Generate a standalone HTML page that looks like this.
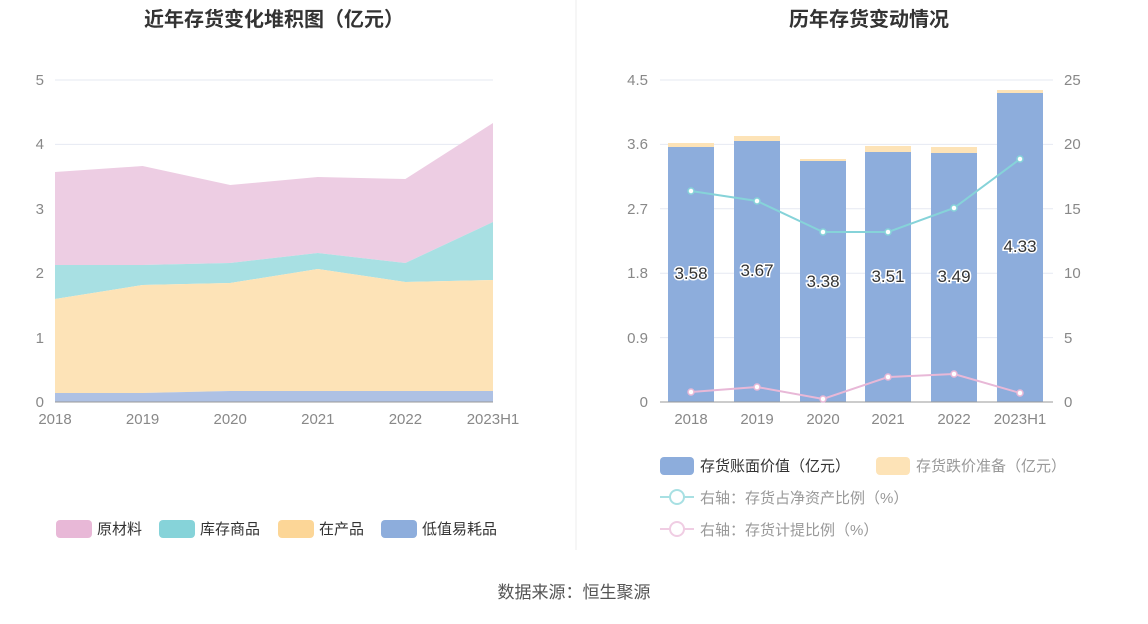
<!DOCTYPE html>
<html><head><meta charset="utf-8"><style>
body{margin:0;background:#fff;width:1148px;height:619px;overflow:hidden;font-family:"Liberation Sans","Noto Sans CJK SC",sans-serif;}
</style></head><body>
<svg width="1148" height="619" xmlns="http://www.w3.org/2000/svg" font-family="Liberation Sans, Noto Sans CJK SC, sans-serif">
<line x1="576" y1="0" x2="576" y2="550" stroke="#eee"/>
<text x="274" y="26" text-anchor="middle" font-size="20" font-weight="bold" fill="#333">近年存货变化堆积图（亿元）</text>
<text x="869" y="26" text-anchor="middle" font-size="20" font-weight="bold" fill="#333">历年存货变动情况</text>
<g stroke="#e6e9f2"><line x1="55" y1="80" x2="493" y2="80"/><line x1="55" y1="144.4" x2="493" y2="144.4"/><line x1="55" y1="208.8" x2="493" y2="208.8"/><line x1="55" y1="273.2" x2="493" y2="273.2"/><line x1="55" y1="337.6" x2="493" y2="337.6"/></g>
<g font-size="15" fill="#888" text-anchor="end"><text x="44" y="85">5</text><text x="44" y="149">4</text><text x="44" y="214">3</text><text x="44" y="278">2</text><text x="44" y="343">1</text><text x="44" y="407">0</text></g>
<polygon fill="#edcde3" points="55,172 142.6,166 230.2,185 317.8,177 405.4,179 493,123 493,222 405.4,263 317.8,253 230.2,263 142.6,265 55,265"/>
<polygon fill="#a8e0e3" points="55,265 142.6,265 230.2,263 317.8,253 405.4,263 493,222 493,280 405.4,282 317.8,269 230.2,283 142.6,285 55,299"/>
<polygon fill="#fde3b7" points="55,299 142.6,285 230.2,283 317.8,269 405.4,282 493,280 493,391 405.4,391 317.8,391 230.2,391 142.6,393 55,393"/>
<polygon fill="#aec1e4" points="55,393 142.6,393 230.2,391 317.8,391 405.4,391 493,391 493,402 55,402"/>
<line x1="55" y1="402" x2="493" y2="402" stroke="#999"/>
<g font-size="15" fill="#888" text-anchor="middle"><text x="55" y="424">2018</text><text x="142.6" y="424">2019</text><text x="230.2" y="424">2020</text><text x="317.8" y="424">2021</text><text x="405.4" y="424">2022</text><text x="493" y="424">2023H1</text></g>
<g font-size="15" fill="#333">
<rect x="56" y="520" width="36" height="18" rx="4" fill="#e8b8d7"/><text x="97" y="534">原材料</text>
<rect x="159" y="520" width="36" height="18" rx="4" fill="#86d3d9"/><text x="200" y="534">库存商品</text>
<rect x="278" y="520" width="36" height="18" rx="4" fill="#fcd697"/><text x="319" y="534">在产品</text>
<rect x="381" y="520" width="36" height="18" rx="4" fill="#8daddc"/><text x="422" y="534">低值易耗品</text>
</g>
<g stroke="#e6e9f2"><line x1="660" y1="80" x2="1053" y2="80"/><line x1="660" y1="144.4" x2="1053" y2="144.4"/><line x1="660" y1="208.8" x2="1053" y2="208.8"/><line x1="660" y1="273.2" x2="1053" y2="273.2"/><line x1="660" y1="337.6" x2="1053" y2="337.6"/></g>
<g font-size="15" fill="#888" text-anchor="end"><text x="648" y="85">4.5</text><text x="648" y="149">3.6</text><text x="648" y="214">2.7</text><text x="648" y="278">1.8</text><text x="648" y="343">0.9</text><text x="648" y="407">0</text></g>
<g font-size="15" fill="#888"><text x="1064" y="85">25</text><text x="1064" y="149">20</text><text x="1064" y="214">15</text><text x="1064" y="278">10</text><text x="1064" y="343">5</text><text x="1064" y="407">0</text></g>
<g fill="#fde3b7"><rect x="668" y="143" width="46" height="4"/><rect x="734" y="136" width="46" height="5"/><rect x="800" y="159" width="46" height="2"/><rect x="865" y="146" width="46" height="6"/><rect x="931" y="147" width="46" height="6"/><rect x="997" y="90" width="46" height="3"/></g>
<g fill="#8daddc"><rect x="668" y="147" width="46" height="255"/><rect x="734" y="141" width="46" height="261"/><rect x="800" y="161" width="46" height="241"/><rect x="865" y="152" width="46" height="250"/><rect x="931" y="153" width="46" height="249"/><rect x="997" y="93" width="46" height="309"/></g>
<line x1="660" y1="402" x2="1053" y2="402" stroke="#999"/>
<g font-size="17" fill="#333" text-anchor="middle" stroke="#fff" stroke-width="3" paint-order="stroke"><text x="691" y="279">3.58</text><text x="757" y="276">3.67</text><text x="823" y="287">3.38</text><text x="888" y="282">3.51</text><text x="954" y="282">3.49</text><text x="1020" y="252">4.33</text></g>
<polyline fill="none" stroke="#86d3d9" stroke-width="2" points="691,191 757,201 823,232 888,232 954,208 1020,159"/>
<polyline fill="none" stroke="#e8b8d7" stroke-width="2" points="691,392 757,387 823,399 888,377 954,374 1020,393"/>
<g fill="#fff" stroke="#86d3d9" stroke-width="1.5"><circle cx="691" cy="191" r="3"/><circle cx="757" cy="201" r="3"/><circle cx="823" cy="232" r="3"/><circle cx="888" cy="232" r="3"/><circle cx="954" cy="208" r="3"/><circle cx="1020" cy="159" r="3"/></g>
<g fill="#fff" stroke="#e8b8d7" stroke-width="1.5"><circle cx="691" cy="392" r="3"/><circle cx="757" cy="387" r="3"/><circle cx="823" cy="399" r="3"/><circle cx="888" cy="377" r="3"/><circle cx="954" cy="374" r="3"/><circle cx="1020" cy="393" r="3"/></g>
<g font-size="15" fill="#888" text-anchor="middle"><text x="691" y="424">2018</text><text x="757" y="424">2019</text><text x="823" y="424">2020</text><text x="888" y="424">2021</text><text x="954" y="424">2022</text><text x="1020" y="424">2023H1</text></g>
<g font-size="15" fill="#333">
<rect x="660" y="457" width="34" height="18" rx="4" fill="#8daddc"/><text x="700" y="471">存货账面价值（亿元）</text>
<rect x="876" y="457" width="34" height="18" rx="4" fill="#fde3b7"/><text x="916" y="471" fill="#999">存货跌价准备（亿元）</text>
<line x1="660" y1="497" x2="694" y2="497" stroke="#a8e0e3" stroke-width="2"/><circle cx="677" cy="497" r="7" fill="#fff" stroke="#a8e0e3" stroke-width="2"/><text x="700" y="503" fill="#999">右轴：存货占净资产比例（%）</text>
<line x1="660" y1="529" x2="694" y2="529" stroke="#f0cde3" stroke-width="2"/><circle cx="677" cy="529" r="7" fill="#fff" stroke="#f0cde3" stroke-width="2"/><text x="700" y="535" fill="#999">右轴：存货计提比例（%）</text>
</g>
<text x="574" y="598" text-anchor="middle" font-size="17" fill="#555">数据来源：恒生聚源</text>
</svg>
</body></html>
